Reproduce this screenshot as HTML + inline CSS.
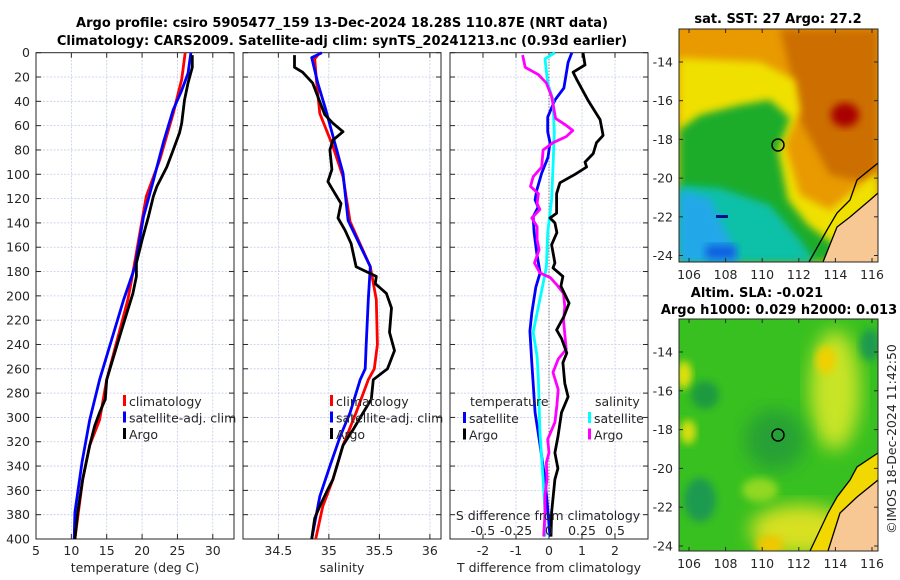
<!DOCTYPE html>
<html><head><meta charset="utf-8"><style>
body{margin:0;background:#fff;width:900px;height:580px;overflow:hidden}
svg{display:block;font-family:"DejaVu Sans","Liberation Sans",sans-serif}
.t{font-size:12.5px;fill:#262626}
.b{font-size:13px;font-weight:bold;fill:#000}
</style></head><body>
<svg id="c" width="900" height="580" viewBox="0 0 900 580">
<defs>
<filter id="bl" x="-20%" y="-20%" width="140%" height="140%"><feGaussianBlur stdDeviation="4"/></filter>
<filter id="bl2" x="-20%" y="-20%" width="140%" height="140%"><feGaussianBlur stdDeviation="9"/></filter>
<clipPath id="cm1"><rect x="679" y="29" width="199" height="233"/></clipPath>
<clipPath id="cm2"><rect x="679" y="319" width="199" height="232"/></clipPath>
</defs>
<text class="b" x="342" y="27" text-anchor="middle">Argo profile: csiro 5905477_159 13-Dec-2024 18.28S 110.87E (NRT data)</text>
<text class="b" x="342" y="45" text-anchor="middle">Climatology: CARS2009. Satellite-adj clim: synTS_20241213.nc (0.93d earlier)</text>
<g id="maps">
<text class="b" x="778" y="23" text-anchor="middle">sat. SST: 27 Argo: 27.2</text>
<g clip-path="url(#cm1)">
<rect x="679" y="29" width="199" height="233" fill="#e89a00"/>
<polygon points="780,29 878,29 878,185 830,175 800,120 790,70" fill="#cc6e00" filter="url(#bl)"/>
<ellipse cx="845" cy="115" rx="14" ry="12" fill="#a80000" filter="url(#bl)"/>
<polygon points="679,58 760,62 795,80 800,110 785,145 800,195 830,210 878,170 878,262 679,262" fill="#f0e000" filter="url(#bl)"/>
<polygon points="679,130 700,115 740,105 770,100 790,118 778,150 788,200 808,225 835,245 850,262 679,262" fill="#1fac2c" filter="url(#bl)"/>
<polygon points="679,185 720,188 770,205 800,240 815,262 679,262" fill="#10c0a8" filter="url(#bl)"/>
<polygon points="679,190 710,198 725,230 740,262 679,262" fill="#20a8e8" filter="url(#bl)"/>
<rect x="706" y="245" width="30" height="14" fill="#1060e0" filter="url(#bl)"/>
<rect x="716" y="215" width="12" height="3" fill="#00108a"/>
<polygon points="878,193 870,200 850,217 837,227 823,262 878,262" fill="#f8c894"/>
<polyline points="878,163 857,180 850,200 837,213 827,230 809,262" fill="none" stroke="#000" stroke-width="1.3"/>
<polyline points="878,193 870,200 850,217 837,227 823,262" fill="none" stroke="#000" stroke-width="1.3"/>
<circle cx="778" cy="145" r="6" fill="none" stroke="#000" stroke-width="1.5"/>
</g>
<rect x="679" y="29" width="199" height="233" fill="none" stroke="#262626" stroke-width="1"/>
<text class="b" x="757" y="297" text-anchor="middle">Altim. SLA: -0.021</text>
<text class="b" x="779" y="314" text-anchor="middle">Argo h1000: 0.029 h2000: 0.013</text>
<g clip-path="url(#cm2)">
<rect x="679" y="319" width="199" height="232" fill="#38c020"/>
<ellipse cx="835" cy="390" rx="25" ry="60" fill="#c8e428" filter="url(#bl2)"/>
<ellipse cx="826" cy="360" rx="10" ry="14" fill="#f0d000" filter="url(#bl)"/>
<ellipse cx="800" cy="530" rx="50" ry="25" fill="#d8e020" filter="url(#bl2)"/>
<ellipse cx="770" cy="545" rx="14" ry="10" fill="#f0c800" filter="url(#bl)"/>
<ellipse cx="684" cy="375" rx="8" ry="14" fill="#e0e010" filter="url(#bl)"/>
<ellipse cx="688" cy="432" rx="8" ry="12" fill="#d8e010" filter="url(#bl)"/>
<ellipse cx="705" cy="395" rx="14" ry="14" fill="#1f9a40" filter="url(#bl)"/>
<ellipse cx="775" cy="440" rx="30" ry="30" fill="#26a036" filter="url(#bl2)"/>
<ellipse cx="700" cy="500" rx="16" ry="22" fill="#1f9a50" filter="url(#bl)"/>
<ellipse cx="760" cy="490" rx="18" ry="12" fill="#90d820" filter="url(#bl)"/>
<ellipse cx="870" cy="345" rx="10" ry="16" fill="#1f9a50" filter="url(#bl)"/>
<polygon points="878,480 857,497 840,513 828,551 878,551" fill="#f8c894"/>
<polygon points="878,453 857,467 850,480 837,497 828,513 810,551 828,551 840,513 857,497 878,480" fill="#f0d800"/>
<polyline points="878,453 857,467 850,480 837,497 828,513 810,551" fill="none" stroke="#000" stroke-width="1.3"/>
<polyline points="878,480 857,497 840,513 828,551" fill="none" stroke="#000" stroke-width="1.3"/>
<circle cx="778" cy="435" r="6" fill="none" stroke="#000" stroke-width="1.5"/>
</g>
<rect x="679" y="319" width="199" height="232" fill="none" stroke="#262626" stroke-width="1"/>
<text class="t" transform="translate(896,439) rotate(-90)" text-anchor="middle">©IMOS 18-Dec-2024 11:42:50</text>
</g>
</svg>
<script>
// ----- data -----
const depthTicks=[0,20,40,60,80,100,120,140,160,180,200,220,240,260,280,300,320,340,360,380,400];
const tempTicks=[5,10,15,20,25,30];
const salTicks=[34.5,35,35.5,36];
const salTickLabels=["34.5","35","35.5","36"];
const tdTicks=[-2,-1,0,1,2];
const sdTicks=[-0.5,-0.25,0,0.25,0.5];
const sdTickLabels=["-0.5","-0.25","0","0.25","0.5"];
const lonTicks=[106,108,110,112,114,116];
const latTicks=[-14,-16,-18,-20,-22,-24];

const tClimDepth=[0,22,50,88,118,148,181,203,269,302,323,351,400];
const tClimVal=[26.1,25.6,24.4,22.5,20.6,19.7,18.7,18.0,15.0,14.0,12.6,11.6,10.5];
const tSatDepth=[0,17,31,47,74,105,135,176,203,269,302,337,378,400];
const tSatVal=[26.9,26.5,25.6,24.4,23.0,21.6,20.2,19.0,17.4,14.0,12.6,11.5,10.5,10.4];
const tArgoDepth=[2,12,25,39,58,66,80,94,110,118,135,154,173,184,198,230,269,285,296,307,323,337,351,378,400];
const tArgoVal=[27.1,27.1,26.5,26.0,25.6,25.3,24.4,23.5,22.1,21.6,20.9,20.0,19.2,19.2,18.7,17.0,15.0,14.8,14.0,13.3,12.6,12.1,11.6,10.9,10.5];

const sClimDepth=[0,5,25,50,77,102,139,176,203,240,260,269,296,323,351,373,400];
const sClimVal=[34.91,34.86,34.88,34.91,35.04,35.14,35.21,35.41,35.47,35.48,35.45,35.39,35.27,35.14,35.04,34.94,34.87];
const sSatDepth=[0,4,25,47,99,138,176,203,240,260,269,296,316,340,365,400];
const sSatVal=[34.93,34.83,34.89,34.97,35.14,35.19,35.41,35.39,35.37,35.36,35.31,35.21,35.11,35.01,34.91,34.83];
const sArgoDepth=[2,12,16,25,36,51,58,65,72,80,96,106,113,124,136,146,157,176,184,190,198,210,230,245,260,269,285,296,310,323,337,351,359,373,383,400];
const sArgoVal=[34.66,34.66,34.74,34.84,34.89,34.96,35.04,35.14,35.04,35.01,35.03,34.99,35.04,35.12,35.09,35.16,35.22,35.27,35.47,35.46,35.57,35.62,35.6,35.65,35.58,35.44,35.42,35.34,35.24,35.14,35.09,35.04,34.99,34.91,34.86,34.83];

const tdSatDepth=[0,8,29,39,53,65,74,86,99,113,121,127,135,148,165,181,193,214,229,255,296,323,351,378,398];
const tdSatVal=[0.69,0.58,0.45,0.18,-0.04,-0.04,0.03,-0.03,-0.22,-0.37,-0.42,-0.33,-0.48,-0.45,-0.37,-0.27,-0.4,-0.52,-0.58,-0.52,-0.42,-0.27,-0.12,-0.03,0.03];
const tdArgoDepth=[0,10,16,22,39,55,68,74,83,90,94,100,107,116,132,136,140,148,158,173,177,184,192,206,217,228,235,247,255,272,283,296,316,329,342,351,378,398];
const tdArgoVal=[1.03,1.09,0.73,0.84,1.18,1.55,1.64,1.44,1.34,1.09,1.14,0.79,0.33,0.23,0.23,0.03,0.18,0.24,0.08,0.18,0.12,0.42,0.36,0.61,0.45,0.23,0.38,0.54,0.42,0.48,0.58,0.38,0.27,0.18,0.27,0.18,0.08,0.06];
const sdSatDepth=[0,5,25,39,66,94,121,148,176,190,214,230,250,269,310,351,378,398];
const sdSatVal=[0.045,-0.03,-0.01,0.03,0.04,0.03,0.02,-0.01,-0.02,-0.045,-0.09,-0.12,-0.09,-0.08,-0.07,-0.045,-0.03,-0.03];
const sdArgoDepth=[2,12,18,25,36,54,59,64,69,74,80,94,102,110,116,124,129,136,143,154,162,173,181,185,191,198,209,220,244,252,263,277,290,304,318,329,337,351,364,378,398];
const sdArgoVal=[-0.2,-0.18,-0.08,-0.02,0.02,0.05,0.12,0.18,0.13,0.03,-0.045,-0.055,-0.12,-0.14,-0.08,-0.09,-0.07,-0.13,-0.09,-0.09,-0.075,-0.11,-0.07,0.01,0.06,0.11,0.12,0.11,0.13,0.07,0.03,0.07,0.06,0.045,-0.01,0,-0.02,-0.015,-0.03,-0.03,-0.04];

// ----- layout -----
const NS="http://www.w3.org/2000/svg";
const svg=document.getElementById('c');
const Y0=52.7,Y1=539;
const yD=d=>Y0+(d/400)*(Y1-Y0);
const P1={x0:36,x1:234,min:5,max:33};
const P2={x0:243,x1:441,min:34.15,max:36.11};
const P3={x0:450,x1:648,min:-3,max:3};
const sx=(p,v)=>p.x0+(v-p.min)/(p.max-p.min)*(p.x1-p.x0);
const sxS=v=>sx(P3,v*4);
function mk(tag,attrs,parent){const e=document.createElementNS(NS,tag);for(const k in attrs)e.setAttribute(k,attrs[k]);(parent||svg).appendChild(e);return e;}
function txt(x,y,s,anchor,parent){const e=mk('text',{x:x,y:y,class:'t','text-anchor':anchor||'middle'},parent);e.textContent=s;return e;}

function panel(p,name,xt,xlab,fx){
  const g=mk('g',{});
  
  
  depthTicks.forEach(d=>{if(d>0&&d<400)mk('line',{x1:p.x0,x2:p.x1,y1:yD(d),y2:yD(d),stroke:'#c4cce8','stroke-width':0.8,'stroke-dasharray':'2,1.5'},g);});
  xt.forEach(v=>{const x=fx(v);mk('line',{x1:x,x2:x,y1:Y0,y2:Y1,stroke:'#c4cce8','stroke-width':0.8,'stroke-dasharray':'2,1.5'},g);});
  depthTicks.forEach(d=>{mk('line',{x1:p.x0,x2:p.x0+5,y1:yD(d),y2:yD(d),stroke:'#262626'},g);mk('line',{x1:p.x1,x2:p.x1-5,y1:yD(d),y2:yD(d),stroke:'#262626'},g);});
  xt.forEach(v=>{const x=fx(v);mk('line',{x1:x,x2:x,y1:Y1,y2:Y1-5,stroke:'#262626'},g);mk('line',{x1:x,x2:x,y1:Y0,y2:Y0+5,stroke:'#262626'},g);});
  mk('rect',{x:p.x0,y:Y0,width:p.x1-p.x0,height:Y1-Y0,fill:'none',stroke:'#262626','stroke-width':1},g);
  return g;
}
function line(g,xs,ds,color,name,fx){
  const pts=xs.map((v,i)=>fx(v).toFixed(1)+','+yD(ds[i]).toFixed(1)).join(' ');
  const l=mk('polyline',{points:pts,fill:'none',stroke:color,'stroke-width':2.8,'stroke-linejoin':'round'},g);
  
  
}
function legend(g,x,y,items){
  items.forEach((it,i)=>{mk('rect',{x:x,y:y+i*16.5-11,width:3,height:11,fill:it[0]},g);txt(x+6,y+i*16.5,it[1],'start',g);});
}

// panel 1
const f1=v=>sx(P1,v);
const g1=panel(P1,'temperature-panel',tempTicks.slice(1),'',f1);
depthTicks.forEach(d=>txt(30,yD(d)+4.5,String(d),'end'));
tempTicks.forEach(v=>txt(f1(v),555,String(v)));
txt(135,572,'temperature (deg C)');
line(g1,tClimVal,tClimDepth,'#ff0000','temp-climatology-line',f1);
line(g1,tSatVal,tSatDepth,'#0000ff','temp-satellite-line',f1);
line(g1,tArgoVal,tArgoDepth,'#000000','temp-argo-line',f1);
legend(g1,123,406,[['#ff0000','climatology'],['#0000ff','satellite-adj. clim'],['#000','Argo']]);

// panel 2
const f2=v=>sx(P2,v);
const g2=panel(P2,'salinity-panel',salTicks,'',f2);
salTicks.forEach((v,i)=>txt(f2(v),555,salTickLabels[i]));
txt(342,572,'salinity');
line(g2,sClimVal,sClimDepth,'#ff0000','sal-climatology-line',f2);
line(g2,sSatVal,sSatDepth,'#0000ff','sal-satellite-line',f2);
line(g2,sArgoVal,sArgoDepth,'#000000','sal-argo-line',f2);
legend(g2,330,406,[['#ff0000','climatology'],['#0000ff','satellite-adj. clim'],['#000','Argo']]);

// panel 3
const f3=v=>sx(P3,v);
const g3=panel(P3,'difference-panel',tdTicks,'',f3);
mk('line',{x1:f3(0),x2:f3(0),y1:Y0,y2:Y1,stroke:'#555','stroke-width':1,'stroke-dasharray':'1,2'},g3);
tdTicks.forEach(v=>txt(f3(v),555,String(v)));
txt(549,572,'T difference from climatology');
line(g3,tdSatVal,tdSatDepth,'#0000ff','tdiff-satellite-line',f3);
line(g3,sdSatVal,sdSatDepth,'#00ffff','sdiff-satellite-line',sxS);
line(g3,sdArgoVal,sdArgoDepth,'#ff00ff','sdiff-argo-line',sxS);
line(g3,tdArgoVal,tdArgoDepth,'#000000','tdiff-argo-line',f3);
txt(470,406,'temperature','start',g3);
legend(g3,463,423,[['#0000ff','satellite'],['#000','Argo']]);
txt(595,406,'salinity','start',g3);
legend(g3,588,423,[['#00ffff','satellite'],['#ff00ff','Argo']]);
txt(548,520,'S difference from climatology',null,g3);
sdTicks.forEach((v,i)=>txt(sxS(v),535,sdTickLabels[i],null,g3));

// map axes
const lonX=v=>689+(v-106)*18.3;
const latY1=v=>62+(-14-v)*19.35;
const latY2=v=>352+(-14-v)*19.4;
[[latY1,29,262],[latY2,319,551]].forEach(([fy,top,bot])=>{
  latTicks.forEach(v=>{const y=fy(v);txt(673,y+4.5,String(v),'end');mk('line',{x1:679,x2:683,y1:y,y2:y,stroke:'#262626'});mk('line',{x1:878,x2:874,y1:y,y2:y,stroke:'#262626'});});
  lonTicks.forEach(v=>{const x=lonX(v);txt(x,bot+17,String(v));mk('line',{x1:x,x2:x,y1:bot,y2:bot-4,stroke:'#262626'});mk('line',{x1:x,x2:x,y1:top,y2:top+4,stroke:'#262626'});});
});
</script>
</body></html>
